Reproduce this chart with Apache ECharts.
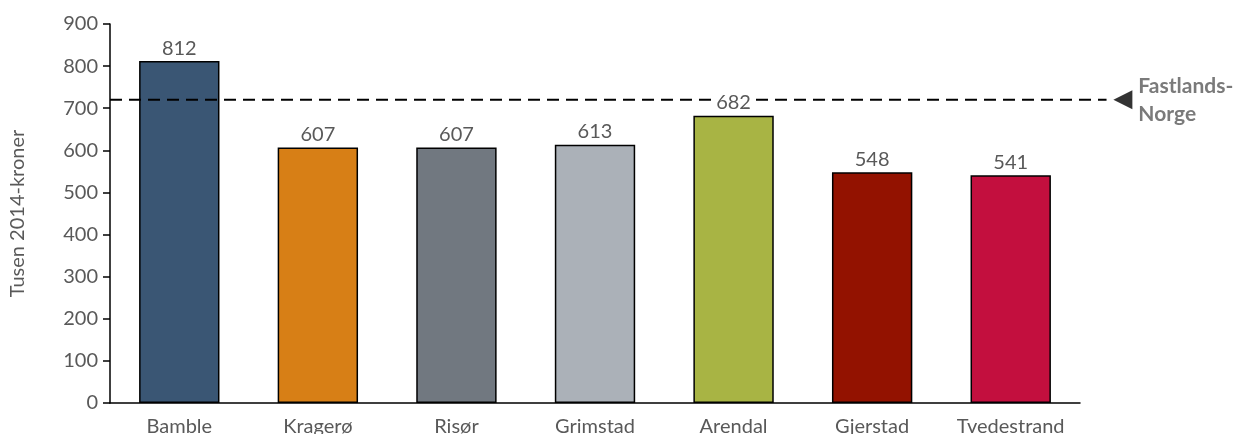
<!DOCTYPE html>
<html>
<head>
<meta charset="utf-8">
<script src="https://cdn.jsdelivr.net/npm/echarts@6/dist/echarts.min.js"></script>
<style>
  html, body { margin: 0; padding: 0; background: #fff; }
  #chart { width: 1237px; height: 434px; }
</style>
</head>
<body>
<div id="chart"></div>
<script>
// Municipalities and their values (thousand 2014-kroner)
const categories = ['Bamble', 'Kragerø', 'Risør', 'Grimstad', 'Arendal', 'Gjerstad', 'Tvedestrand'];
const values = [812, 607, 607, 613, 682, 548, 541];
const barColors = ['#3A5674', '#D77F16', '#717880', '#ABB1B8', '#A8B444', '#931200', '#C30F3E'];
// Mainland Norway reference level
const referenceLevel = 720;
const referenceLabel = 'Fastlands-\nNorge';
const yTicks = { min: 0, max: 900, interval: 100 };

const font = 'Lato, "Open Sans", sans-serif';
const textGrey = '#595959';

const chart = echarts.init(document.getElementById('chart'), null, { renderer: 'canvas' });

chart.setOption({
  animation: false,
  backgroundColor: '#fff',
  grid: [
    { left: 110, right: 157, top: 24, bottom: 31, outerBoundsMode: 'none', containLabel: false },
    // wider grid used for the reference line that runs past the plot
    { left: 110, right: 107, top: 24, bottom: 31, outerBoundsMode: 'none', containLabel: false }
  ],
  xAxis: [
    {
      type: 'category',
      data: categories,
      gridIndex: 0,
      axisLine: { lineStyle: { color: '#000', width: 1.5 } },
      axisTick: { show: false },
      axisLabel: { color: textGrey, fontSize: 20, fontFamily: font, margin: 14, interval: 0 }
    },
    { type: 'value', gridIndex: 1, min: 0, max: 1, show: false }
  ],
  yAxis: [
    {
      type: 'value',
      gridIndex: 0,
      min: yTicks.min, max: yTicks.max, interval: yTicks.interval,
      name: 'Tusen 2014-kroner',
      nameLocation: 'middle',
      nameGap: 82,
      nameTextStyle: { color: textGrey, fontSize: 20, fontFamily: font },
      axisLine: { show: true, lineStyle: { color: '#000', width: 1.5 } },
      axisTick: { show: true, length: 7, lineStyle: { color: '#000', width: 1.5 } },
      axisLabel: { color: textGrey, fontSize: 20, fontFamily: font, margin: 12 },
      splitLine: { show: false }
    },
    { type: 'value', gridIndex: 1, min: yTicks.min, max: yTicks.max, show: false }
  ],
  series: [
    {
      type: 'bar',
      xAxisIndex: 0, yAxisIndex: 0,
      z: 2,
      barWidth: '58%',
      data: values.map((v, i) => ({
        value: v,
        itemStyle: { color: barColors[i], borderColor: '#000', borderWidth: 1.5 }
      }))
    },
    {
      type: 'line',
      xAxisIndex: 1, yAxisIndex: 1,
      z: 3,
      symbol: 'none',
      silent: true,
      lineStyle: { color: '#000', width: 2, type: [12, 7] },
      data: [[0, referenceLevel], [0.977, referenceLevel]]
    },
    {
      type: 'scatter',
      xAxisIndex: 1, yAxisIndex: 1,
      z: 3,
      symbol: 'triangle',
      symbolSize: [19, 19],
      symbolRotate: 90,
      itemStyle: { color: '#000' },
      label: {
        show: true,
        position: 'right',
        distance: 6,
        formatter: referenceLabel,
        color: textGrey,
        fontSize: 21,
        fontWeight: 'bold',
        fontFamily: font,
        lineHeight: 28
      },
      data: [[0.993, referenceLevel]]
    },
    {
      // value labels drawn above the reference line
      type: 'bar',
      xAxisIndex: 0, yAxisIndex: 0,
      z: 4,
      barWidth: '58%',
      barGap: '-100%',
      silent: true,
      itemStyle: { color: 'rgba(0,0,0,0)' },
      label: {
        show: true,
        position: 'top',
        distance: 3,
        color: textGrey,
        fontSize: 20,
        fontFamily: font,
        backgroundColor: '#fff',
        padding: [0, 2]
      },
      data: values
    }
  ]
});
</script>
</body>
</html>
